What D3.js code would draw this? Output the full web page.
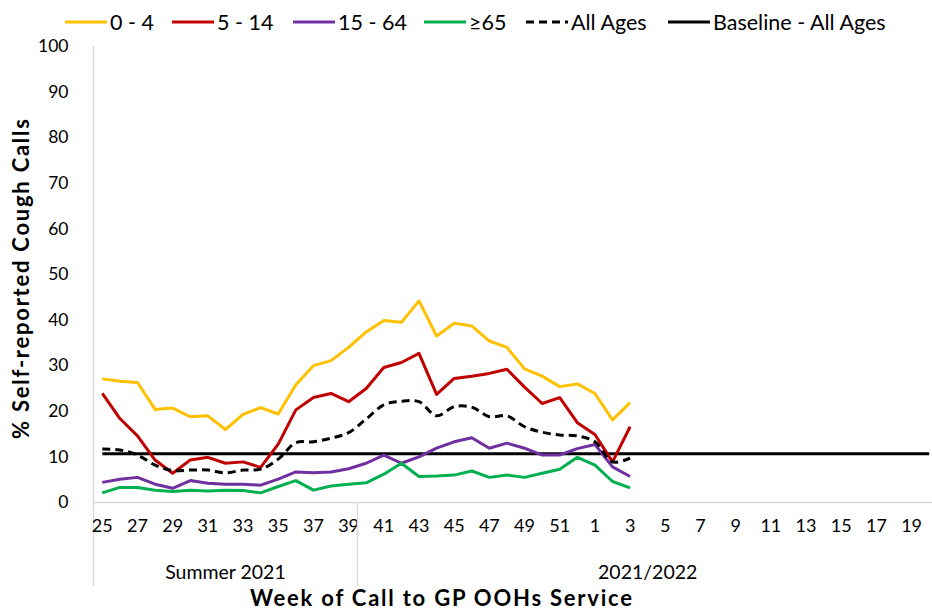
<!DOCTYPE html>
<html>
<head>
<meta charset="utf-8">
<script src="https://cdn.jsdelivr.net/npm/d3@7"></script>
<style>
  html, body { margin: 0; padding: 0; background: #fff; }
  svg { display: block; font-family: Lato, "Open Sans", sans-serif; }
</style>
</head>
<body>
<svg id="chart" width="932" height="610"></svg>
<script>
// Week categories (weeks 25-52 of 2021, weeks 1-20 of 2022)
const weeks = ["25","26","27","28","29","30","31","32","33","34","35","36","37","38","39",
  "40","41","42","43","44","45","46","47","48","49","50","51","52",
  "1","2","3","4","5","6","7","8","9","10","11","12","13","14","15","16","17","18","19","20"];
const tickWeeks = ["25","27","29","31","33","35","37","39","41","43","45","47","49","51",
  "1","3","5","7","9","11","13","15","17","19"];
const seasons = ["Summer 2021", "2021/2022"];
const seasonStart = ["25", "40"];
const yTicks = [0,10,20,30,40,50,60,70,80,90,100];

// Series values, weeks 25 .. 3
const age0_4  = [27.0,26.5,26.2,20.3,20.6,18.7,18.9,15.9,19.2,20.7,
                 19.3,25.7,29.9,31.0,33.9,37.3,39.8,39.4,44.1,36.4,
                 39.2,38.6,35.3,33.9,29.2,27.6,25.3,25.9,23.8,18.0,21.8];
const age5_14 = [23.8,18.3,14.5,9.2,6.3,9.2,9.8,8.5,8.8,7.6,
                 12.7,20.2,22.9,23.8,22.0,24.9,29.5,30.6,32.6,23.6,
                 27.1,27.6,28.2,29.1,25.2,21.6,22.9,17.4,14.8,8.8,16.5];
const age15_64= [4.3,5.0,5.4,3.9,3.0,4.7,4.1,3.9,3.9,3.7,
                 5.0,6.6,6.4,6.6,7.3,8.5,10.3,8.5,9.9,11.8,
                 13.2,14.1,11.8,12.9,11.8,10.3,10.3,11.7,12.6,7.7,5.6];
const age65   = [2.0,3.2,3.2,2.6,2.3,2.6,2.4,2.6,2.5,2.0,
                 3.4,4.7,2.6,3.5,3.9,4.2,6.1,8.5,5.6,5.7,
                 5.9,6.8,5.4,5.9,5.4,6.3,7.2,9.8,8.1,4.5,3.1];
const allAges = [11.6,11.4,10.3,8.1,6.9,7.0,7.0,6.4,7.0,7.2,
                 9.4,13.0,13.2,14.0,15.2,18.2,21.3,22.1,22.0,18.9,
                 20.9,20.8,18.7,18.9,16.5,15.3,14.7,14.5,13.2,8.8,9.6];
const baselineValue = 10.6;

const seriesNames = ["0 - 4", "5 - 14", "15 - 64", "\u226565", "All Ages", "Baseline - All Ages"];
const seriesColors = ["#FFC000", "#C00000", "#7030A0", "#00B050", "#000000", "#000000"];

const svg = d3.select("#chart");
const mLeft = 93.5, mRight = 938, mTop = 46, mBottom = 502;

const x = d3.scaleBand().domain(weeks).range([mLeft, mRight]).paddingInner(0).paddingOuter(0);
const xc = w => x(w) + x.bandwidth() / 2;
const y = d3.scaleLinear().domain([0, 100]).range([mBottom, mTop]);

const axisColor = "#d9d9d9";

// y axis line (extends down to bottom of multi-level category axis)
svg.append("line").attr("x1", mLeft).attr("x2", mLeft).attr("y1", mTop).attr("y2", 586)
  .attr("stroke", axisColor).attr("stroke-width", 1.3);

// y tick labels
const yAxis = d3.axisLeft(y).tickValues(yTicks).tickSize(0).tickPadding(25);
const gy = svg.append("g").attr("transform", `translate(${mLeft},0)`).call(yAxis);
gy.select(".domain").remove();
gy.selectAll("text").attr("font-size", 17.5).attr("fill", "#000").attr("font-family", "Lato, sans-serif");

// x axis
const xAxis = d3.axisBottom(x).tickValues(tickWeeks).tickSize(0).tickPadding(17);
const gx = svg.append("g").attr("transform", `translate(0,${mBottom})`).call(xAxis);
gx.select(".domain").attr("stroke", axisColor).attr("stroke-width", 1.3);
gx.selectAll("text").attr("font-size", 18).attr("fill", "#000").attr("font-family", "Lato, sans-serif");

// season separators and labels
const seasonBounds = seasonStart.map(w => x(w)).concat([mRight]);
seasonBounds.forEach((bx, i) => {
  if (i === 0 || i === seasonBounds.length - 1) return;
  svg.append("line").attr("x1", bx).attr("x2", bx).attr("y1", mBottom).attr("y2", 586)
    .attr("stroke", axisColor).attr("stroke-width", 1.3);
});
seasons.forEach((s, i) => {
  svg.append("text")
    .attr("x", (seasonBounds[i] + seasonBounds[i + 1]) / 2)
    .attr("y", 579)
    .attr("text-anchor", "middle")
    .attr("font-size", 19.5)
    .attr("fill", "#000")
    .text(s);
});

// axis titles
svg.append("text")
  .attr("x", 441).attr("y", 606)
  .attr("text-anchor", "middle")
  .attr("font-size", 22).attr("font-weight", "bold").attr("fill", "#000")
  .attr("textLength", 382).attr("lengthAdjust", "spacing")
  .text("Week of Call to GP OOHs Service");
svg.append("text")
  .attr("transform", `translate(29,279) rotate(-90)`)
  .attr("text-anchor", "middle")
  .attr("font-size", 22).attr("font-weight", "bold").attr("fill", "#000")
  .attr("textLength", 320).attr("lengthAdjust", "spacing")
  .text("% Self-reported Cough Calls");

// lines
const dataWeeks = weeks.slice(0, age0_4.length);
const mkLine = (curve) => d3.line().x((d, i) => xc(dataWeeks[i])).y(d => y(d)).curve(curve);

// baseline
svg.append("line")
  .attr("x1", xc(weeks[0])).attr("x2", xc(weeks[weeks.length - 1]))
  .attr("y1", y(baselineValue)).attr("y2", y(baselineValue))
  .attr("stroke", seriesColors[5]).attr("stroke-width", 3);

const series = [age0_4, age5_14, age15_64, age65];
series.forEach((s, k) => {
  svg.append("path").datum(s)
    .attr("d", mkLine(d3.curveLinear))
    .attr("fill", "none")
    .attr("stroke", seriesColors[k])
    .attr("stroke-width", 3)
    .attr("stroke-linejoin", "round");
});
svg.append("path").datum(allAges)
  .attr("d", mkLine(d3.curveCatmullRom.alpha(0.5)))
  .attr("fill", "none")
  .attr("stroke", seriesColors[4])
  .attr("stroke-width", 3)
  .attr("stroke-dasharray", "8,5");

// legend
const legendX = [65, 172, 293, 424, 526, 668];
const legendY = 22;
seriesNames.forEach((name, i) => {
  const g = svg.append("g").attr("transform", `translate(${legendX[i]},${legendY})`);
  g.append("line").attr("x1", 0).attr("x2", 42).attr("y1", 0).attr("y2", 0)
    .attr("stroke", seriesColors[i]).attr("stroke-width", 3)
    .attr("stroke-dasharray", i === 4 ? "8,5" : null);
  g.append("text").attr("x", 45).attr("y", 0).attr("dy", "0.35em")
    .attr("font-size", 21.5).attr("fill", "#000").text(name);
});
</script>
</body>
</html>
